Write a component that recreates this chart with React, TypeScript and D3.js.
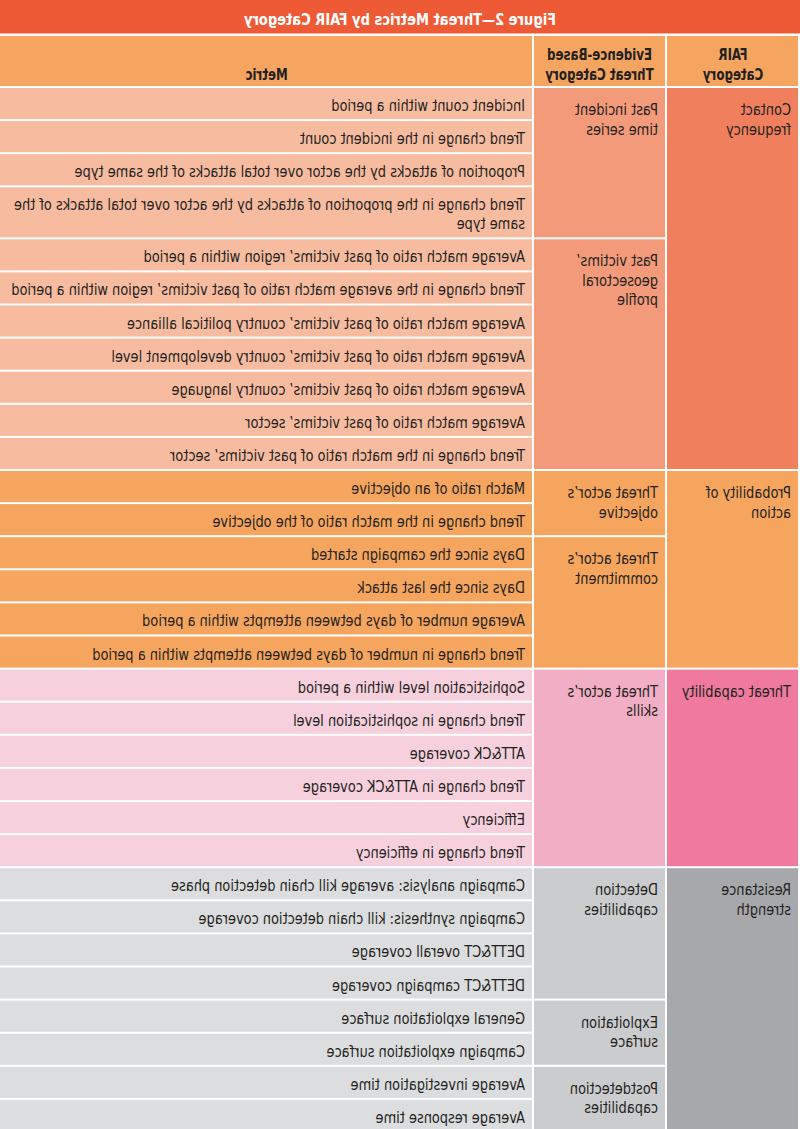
import React from "react";
import * as d3 from "d3";

const title = "Figure 2\u2014Threat Metrics by FAIR Category";
const headerFair = ["FAIR", "Category"];
const headerEvidence = ["Evidence-Based", "Threat Category"];
const headerMetric = ["Metric"];

const metrics: string[][] = [
  ["Incident count within a period"],
  ["Trend change in the incident count"],
  ["Proportion of attacks by the actor over total attacks of the same type"],
  ["Trend change in the proportion of attacks by the actor over total attacks of the", "same type"],
  ["Average match ratio of past victims\u2019 region within a period"],
  ["Trend change in the average match ratio of past victims\u2019 region within a period"],
  ["Average match ratio of past victims\u2019 country political alliance"],
  ["Average match ratio of past victims\u2019 country development level"],
  ["Average match ratio of past victims\u2019 country language"],
  ["Average match ratio of past victims\u2019 sector"],
  ["Trend change in the match ratio of past victims\u2019 sector"],
  ["Match ratio of an objective"],
  ["Trend change in the match ratio of the objective"],
  ["Days since the campaign started"],
  ["Days since the last attack"],
  ["Average number of days between attempts within a period"],
  ["Trend change in number of days between attempts within a period"],
  ["Sophistication level within a period"],
  ["Trend change in sophistication level"],
  ["ATT&CK coverage"],
  ["Trend change in ATT&CK coverage"],
  ["Efficiency"],
  ["Trend change in efficiency"],
  ["Campaign analysis: average kill chain detection phase"],
  ["Campaign synthesis: kill chain detection coverage"],
  ["DETT&CT overall coverage"],
  ["DETT&CT campaign coverage"],
  ["General exploitation surface"],
  ["Campaign exploitation surface"],
  ["Average investigation time"],
  ["Average response time"],
];

const evidenceCategories: string[][] = [
  ["Past incident", "time series"],
  ["Past victims\u2019", "geosectoral", "profile"],
  ["Threat actor\u2019s", "objective"],
  ["Threat actor\u2019s", "commitment"],
  ["Threat actor\u2019s", "skills"],
  ["Detection", "capabilities"],
  ["Exploitation", "surface"],
  ["Postdetection", "capabilities"],
];
const evidenceSpans = [4, 7, 2, 4, 6, 4, 2, 2];
const evidenceFair = [0, 0, 1, 1, 2, 3, 3, 3];

const fairCategories: string[][] = [
  ["Contact", "frequency"],
  ["Probability of", "action"],
  ["Threat capability"],
  ["Resistance", "strength"],
];
const fairSpans = [11, 6, 6, 8];

const fairColors = ["#F07F5E", "#F5A55E", "#EF7A9E", "#A7A8AB"];
const evidenceColors = ["#F29A7A", "#F5A55E", "#F2AEC4", "#CBCCCE"];
const metricColors = ["#F7BBA0", "#F5A55E", "#F6D0DC", "#DCDDDF"];
const titleColor = "#EE5A36";
const headerColor = "#F5A560";
const textColor = "#231F20";

const W = 800;
const H = 1129;
const TITLE_H = 35;
const HEADER_BOTTOM = 87;
const ROW_H = 33.1;
const TALL_H = 52;
const GAP = 2;
const colX = [0, 134, 267, W];
const FONT = "'DejaVu Sans Condensed', 'Liberation Sans Narrow', 'Roboto', sans-serif";
const FS = 16;
const SX = 0.9;
const SX_BOLD = 0.82;
const LH = 19;
const LH_SIDE = 19.5;

function T(props: { x: number; y: number; sx: number; anchor?: string; bold?: boolean; size?: number; fill?: string; children: string }) {
  return (
    <text
      transform={`translate(${props.x},${props.y}) scale(${props.sx},1)`}
      textAnchor={props.anchor || "start"}
      fontWeight={props.bold ? "bold" : "normal"}
      fontSize={props.size || FS}
      fill={props.fill || textColor}
    >
      {props.children}
    </text>
  );
}

export default function App() {
  const heights = metrics.map((m) => (m.length > 1 ? TALL_H : ROW_H));
  const tops = [HEADER_BOTTOM, ...Array.from(d3.cumsum(heights)).map((c) => HEADER_BOTTOM + c)];
  const rowY = d3.scaleOrdinal<number, number>().domain(d3.range(tops.length)).range(tops);

  const fairOfRow: number[] = [];
  fairSpans.forEach((s, i) => { for (let k = 0; k < s; k++) fairOfRow.push(i); });

  const evStarts = [0, ...Array.from(d3.cumsum(evidenceSpans))];
  const fairStarts = [0, ...Array.from(d3.cumsum(fairSpans))];

  const cell = (x0: number, x1: number, y0: number, y1: number, fill: string, key: string) => {
    const l = x0 === 0 ? GAP : x0 + GAP / 2;
    const r = x1 === W ? W : x1 - GAP / 2;
    return <rect key={key} x={l} y={y0 + GAP / 2} width={r - l} height={Math.max(0, y1 - y0 - GAP)} fill={fill} />;
  };

  return (
    <svg width={W} height={H} style={{ position: "absolute", left: 0, top: 0 }} fontFamily={FONT}>
      <rect width={W} height={H} fill="#fff" />
      <g transform={`translate(${W},0) scale(-1,1)`}>
        <rect x={0} y={0} width={W} height={TITLE_H - GAP / 2 - 0.5} fill={titleColor} />
        <T x={W / 2} y={25} sx={0.88} anchor="middle" bold size={16.5} fill="#fff">{title}</T>
        {cell(colX[0], colX[1], TITLE_H, HEADER_BOTTOM, headerColor, "h0")}
        {cell(colX[1], colX[2], TITLE_H, HEADER_BOTTOM, headerColor, "h1")}
        {cell(colX[2], colX[3], TITLE_H, HEADER_BOTTOM, headerColor, "h2")}
        {headerFair.map((t, i) => (
          <T key={"hf" + i} x={(colX[0] + colX[1]) / 2} y={59.5 + i * 20} sx={SX_BOLD} anchor="middle" bold>{t}</T>
        ))}
        {headerEvidence.map((t, i) => (
          <T key={"he" + i} x={(colX[1] + colX[2]) / 2} y={59.5 + i * 20} sx={SX_BOLD} anchor="middle" bold>{t}</T>
        ))}
        {headerMetric.map((t, i) => (
          <T key={"hm" + i} x={(colX[2] + colX[3]) / 2} y={79.5 + i * 20} sx={SX_BOLD} anchor="middle" bold>{t}</T>
        ))}
        {fairCategories.map((lines, i) => {
          const y0 = rowY(fairStarts[i]);
          const y1 = Math.min(rowY(fairStarts[i + 1]), H + 10);
          return (
            <g key={"f" + i}>
              {cell(colX[0], colX[1], y0, y1, fairColors[i], "fr" + i)}
              {lines.map((t, k) => (
                <T key={k} x={colX[0] + 9} y={y0 + 28 + k * LH_SIDE} sx={SX}>{t}</T>
              ))}
            </g>
          );
        })}
        {evidenceCategories.map((lines, i) => {
          const y0 = rowY(evStarts[i]);
          const y1 = Math.min(rowY(evStarts[i + 1]), H + 10);
          return (
            <g key={"e" + i}>
              {cell(colX[1], colX[2], y0, y1, evidenceColors[evidenceFair[i]], "er" + i)}
              {lines.map((t, k) => (
                <T key={k} x={colX[1] + 8} y={y0 + 28 + k * LH_SIDE} sx={SX}>{t}</T>
              ))}
            </g>
          );
        })}
        {metrics.map((lines, i) => {
          const y0 = rowY(i);
          const y1 = rowY(i + 1);
          const mid = (y0 + y1) / 2;
          const first = mid - ((lines.length - 1) * LH) / 2 + 7.5;
          return (
            <g key={"m" + i}>
              {cell(colX[2], colX[3], y0, y1, metricColors[fairOfRow[i]], "mr" + i)}
              {lines.map((t, k) => (
                <T key={k} x={colX[2] + 8} y={first + k * LH} sx={SX}>{t}</T>
              ))}
            </g>
          );
        })}
      </g>
    </svg>
  );
}
